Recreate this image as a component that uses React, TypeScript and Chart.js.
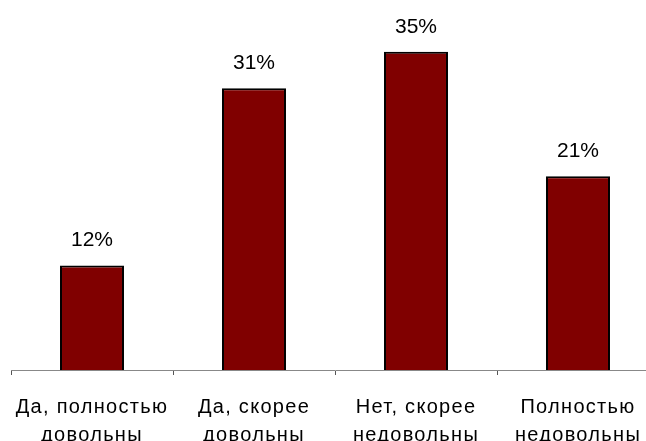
import React, { useEffect, useRef } from "react";
import { Chart, registerables } from "chart.js";

Chart.register(...registerables);

const categories: string[][] = [
  ["Да, полностью", "довольны"],
  ["Да, скорее", "довольны"],
  ["Нет, скорее", "недовольны"],
  ["Полностью", "недовольны"],
];
const values: number[] = [11.5, 31, 35, 21.3];
const valueLabels: string[] = ["12%", "31%", "35%", "21%"];

const FONT = "'Liberation Sans', Arial, sans-serif";

const spacingPlugin = {
  id: "spacing",
  beforeDraw(chart: any) {
    (chart.ctx as any).letterSpacing = "1.3px";
  },
};

const valueLabelPlugin = {
  id: "valueLabels",
  afterDatasetsDraw(chart: any) {
    const ctx = chart.ctx;
    const meta = chart.getDatasetMeta(0);
    ctx.save();
    (ctx as any).letterSpacing = "0px";
    ctx.font = `21px ${FONT}`;
    ctx.fillStyle = "#000";
    ctx.textAlign = "center";
    ctx.textBaseline = "alphabetic";
    meta.data.forEach((bar: any, i: number) => {
      ctx.fillText(valueLabels[i], bar.x, bar.y - 19);
    });
    ctx.restore();
  },
};

export default function App() {
  const ref = useRef<HTMLCanvasElement | null>(null);
  useEffect(() => {
    if (!ref.current) return;
    const chart = new Chart(ref.current, {
      type: "bar",
      data: {
        labels: categories,
        datasets: [
          {
            data: values,
            backgroundColor: "#800000",
            borderColor: "#000000",
            borderWidth: 2,
            categoryPercentage: 1,
            barPercentage: 0.395,
          },
        ],
      },
      options: {
        responsive: false,
        animation: false,
        layout: { padding: { left: 11, right: 11, top: 0, bottom: 0 } },
        plugins: {
          legend: { display: false },
          tooltip: { enabled: false },
        },
        scales: {
          x: {
            offset: true,
            grid: {
              offset: true,
              drawOnChartArea: false,
              drawTicks: true,
              tickLength: 5,
              tickColor: "#555",
              tickWidth: 1,
            },
            border: { display: true, color: "#888", width: 1 },
            ticks: {
              color: "#000",
              font: { family: FONT, size: 20, lineHeight: 1.4 },
              padding: 18,
              maxRotation: 0,
              autoSkip: false,
            },
          },
          y: {
            display: false,
            min: 0,
            max: 40.7,
          },
        },
      },
      plugins: [spacingPlugin, valueLabelPlugin],
    });
    return () => chart.destroy();
  }, []);
  return (
    <div
      style={{
        position: "absolute",
        left: 0,
        top: 0,
        width: 646,
        height: 441,
        overflow: "hidden",
        background: "#fff",
      }}
    >
      <canvas ref={ref} width={670} height={467} style={{ display: "block" }} />
    </div>
  );
}
